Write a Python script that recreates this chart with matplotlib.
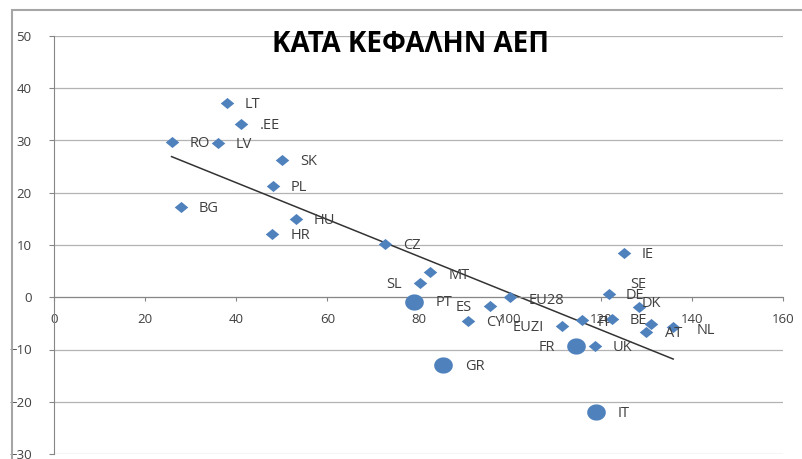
import numpy as np
import matplotlib
matplotlib.use("Agg")
import matplotlib.pyplot as plt
from matplotlib.patches import Rectangle

plt.rcParams['font.family'] = ['Open Sans', 'DejaVu Sans']

# countries shown as diamonds
names = ['LT', '.EE', 'RO', 'LV', 'SK', 'PL', 'BG', 'HU', 'HR', 'CZ', 'MT', 'SL',
         'ES', 'EU28', 'CY', 'EUZI', 'FI', 'BE', 'IE', 'DE', 'DK', 'SE', 'AT', 'NL', 'UK']
xs = [37.9, 41.0, 25.8, 35.9, 50.0, 48.0, 27.8, 53.1, 47.9, 72.6, 82.5, 80.3,
      95.6, 100.0, 90.9, 111.5, 115.8, 122.4, 125.0, 121.8, 128.4, 131.1, 130.0, 135.9, 118.7]
ys = [37.1, 33.2, 29.7, 29.5, 26.2, 21.2, 17.3, 15.0, 12.1, 10.2, 4.9, 2.7,
      -1.6, 0.0, -4.5, -5.5, -4.4, -4.2, 8.5, 0.7, -1.8, -5.1, -6.6, -5.7, -9.3]

# highlighted countries (circles)
big_names = ['PT', 'FR', 'GR', 'IT']
big_x = [79.1, 114.5, 85.4, 118.9]
big_y = [-1.0, -9.3, -12.9, -22.0]

# label offsets in pixels (dx, dy, ha); default is to the right
offsets = {
    'ES': (-18, -2, 'right'), 'SL': (-18, -1, 'right'), 'EUZI': (-18, -2, 'right'),
    'FR': (-21, -2, 'right'), 'DK': (3, 3.5, 'left'), 'SE': (-21, 39, 'left'),
    'DE': (17, -2, 'left'), 'AT': (19, -1.5, 'left'), 'NL': (23, -3, 'left'),
    'FI': (16, -2.5, 'left'), 'PT': (21, 0, 'left'), 'GR': (22, -2, 'left'),
    'IT': (22, -1, 'left'), 'MT': (19, -3.5, 'left'), 'EU28': (19, -3.5, 'left'),
    '.EE': (19, -2, 'left'),
}

blue = '#4F81BD'

fig = plt.figure(figsize=(8.02, 4.59), dpi=100)
ax = fig.add_axes([54 / 802, 5 / 459, (783 - 54) / 802, (454 - 36) / 459])

diamond = [(-1, 0), (0, 0.82), (1, 0), (0, -0.82)]
t = np.linspace(0, 2 * np.pi, 60)
ellipse = list(zip(np.cos(t), 0.87 * np.sin(t)))

ax.scatter(xs, ys, marker=diamond, s=95, color=blue, zorder=3, linewidths=0)
ax.scatter(big_x, big_y, marker=ellipse, s=180, color=blue, zorder=3, linewidths=0)

# linear trend over all points
allx = np.array(xs + big_x)
ally = np.array(ys + big_y)
m, c = np.polyfit(allx, ally, 1)
xx = np.array([allx.min(), allx.max()])
ax.plot(xx, m * xx + c, color='#333333', lw=1.1, zorder=2)

for n, x, y in list(zip(names, xs, ys)) + list(zip(big_names, big_x, big_y)):
    dx, dy, ha = offsets.get(n, (18, -1.5, 'left'))
    ax.annotate(n, (x, y), xytext=(dx, dy), textcoords='offset pixels',
                ha=ha, va='center', fontsize=10.5, color='#404040', zorder=4)

ax.set_xlim(0, 160)
ax.set_ylim(-30, 50)
ax.set_xticks(range(0, 161, 20))
ax.set_yticks(range(-30, 51, 10))
ax.yaxis.grid(True, color='#b3b3b3', lw=0.9)
ax.set_axisbelow(True)
for s in ['top', 'right']:
    ax.spines[s].set_visible(False)
ax.spines['bottom'].set_position(('data', 0))
ax.spines['bottom'].set_color('#868686')
ax.spines['left'].set_color('#868686')
ax.tick_params(axis='x', direction='out', length=3, color='#868686',
               pad=8, labelsize=9.5, labelcolor='#404040')
ax.tick_params(axis='y', direction='out', length=3.6, color='#868686',
               pad=12.5, labelsize=9.5, labelcolor='#404040')

fig.text(410 / 802, 1 - 44 / 459, 'ΚΑΤΑ ΚΕΦΑΛΗΝ ΑΕΠ', ha='center', va='center',
         fontsize=20, fontweight='bold', color='black')

fig.patches.append(Rectangle((11.7 / 802, -0.1), 1.1, 1.1 - 10 / 459,
                             transform=fig.transFigure, fill=False,
                             edgecolor='#a6a6a6', lw=1.5))

fig.savefig('out.png', dpi=100)
